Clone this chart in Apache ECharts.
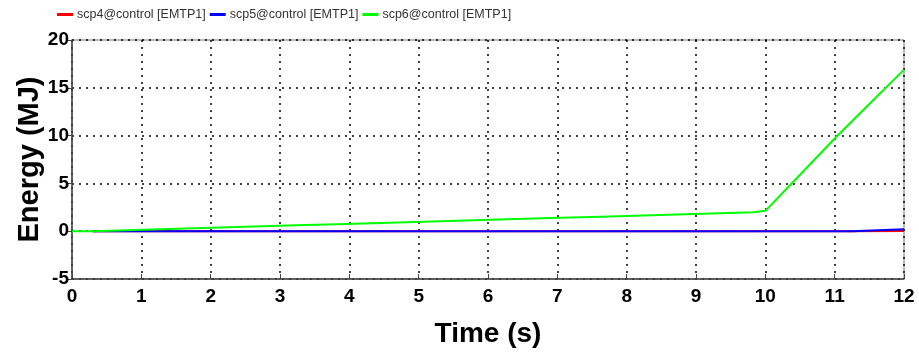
<!DOCTYPE html>
<html>
<head>
<meta charset="utf-8">
<script src="https://cdn.jsdelivr.net/npm/echarts@6/dist/echarts.min.js"></script>
<style>html,body{margin:0;padding:0;background:#fff}#c{width:919px;height:354px}</style>
</head>
<body>
<div id="c"></div>
<script>
const seriesNames = ['scp4@control [EMTP1]', 'scp5@control [EMTP1]', 'scp6@control [EMTP1]'];
const seriesColors = ['#ff0000', '#0000ff', '#00ff00'];
const xTicks = [0,1,2,3,4,5,6,7,8,9,10,11,12];
const yTicks = [-5,0,5,10,15,20];

// scp4 (red): flat zero, tiny rise near the end
const redTimes  = [0.3, 11.25, 12];
const redValues = [0,   0.02,  0.02];
// scp5 (blue)
const blueTimes  = [0.3, 11.25, 12];
const blueValues = [0,   0.2,   0.2];
// scp6 (green): staircase then ramp
const greenStart = [0, 0];
const greenStepTimes  = [0.3, 1.03, 1.76, 2.5, 3.23, 3.96, 4.7, 5.43, 6.16, 6.9, 7.63, 8.36, 9.1, 9.83];
const greenStepValues = [0.15, 0.30, 0.46, 0.61, 0.76, 0.91, 1.06, 1.22, 1.37, 1.52, 1.67, 1.82, 1.98, 2.13];
const greenRampTimes  = [10.0, 10.5, 11.0, 11.5, 12.0];
const greenRampValues = [2.13, 5.9, 9.7, 13.3, 16.9];

function zip(ts, vs){ return ts.map((t,i)=>[t, vs[i]]); }
function steps(start, ts, vs){
  const out=[start]; let prev=start[1];
  ts.forEach((t,i)=>{ out.push([t,prev]); out.push([t,vs[i]]); prev=vs[i]; });
  return out;
}
const greenData = steps(greenStart, greenStepTimes, greenStepValues).concat(zip(greenRampTimes, greenRampValues));

const chart = echarts.init(document.getElementById('c'), null, {renderer:'canvas'});
const font = 'Liberation Sans, Arial, sans-serif';
chart.setOption({
  animation:false,
  backgroundColor:'#fff',
  legend:{
    left:52, top:3, itemGap:4, itemWidth:16, itemHeight:3,
    icon:'rect',
    textStyle:{fontFamily:font, fontSize:12.5, color:'#333', padding:[0,0,0,-1]},
    data:seriesNames
  },
  grid:{left:72, right:15, top:40, bottom:75, show:true, borderColor:'#777', borderWidth:1},
  xAxis:{
    type:'value', min:0, max:12, interval:1,
    name:'Time (s)', nameLocation:'middle', nameGap:41, nameMoveOverlap:false,
    nameTextStyle:{fontFamily:font, fontWeight:'bold', fontSize:28, color:'#000'},
    axisLine:{show:true, onZero:false, lineStyle:{color:'#444', width:1.5}},
    axisTick:{show:true, inside:true, length:5, lineStyle:{color:'#444'}},
    axisLabel:{fontFamily:font, fontWeight:'bold', fontSize:19, color:'#000', margin:8,
      formatter:v=>xTicks.includes(v)?String(v):''},
    splitLine:{show:true, lineStyle:{color:'#000', type:[2,5], width:1.5}}
  },
  yAxis:{
    type:'value', min:-5, max:20, interval:5,
    name:'Energy (MJ)', nameLocation:'middle', nameGap:28, nameMoveOverlap:false,
    nameTextStyle:{fontFamily:font, fontWeight:'bold', fontSize:29, color:'#000'},
    axisLine:{show:true, onZero:false, lineStyle:{color:'#444', width:1.5}},
    axisTick:{show:true, inside:false, length:4, lineStyle:{color:'#444'}},
    axisLabel:{fontFamily:font, fontWeight:'bold', fontSize:19, color:'#000', margin:3,
      formatter:v=>yTicks.includes(v)?String(v):''},
    splitLine:{show:true, lineStyle:{color:'#000', type:[2,5], width:1.5}}
  },
  series:[
    {name:seriesNames[0], type:'line', showSymbol:false, step:'end', data:zip(redTimes, redValues),
      lineStyle:{color:seriesColors[0], width:2}, itemStyle:{color:seriesColors[0]}},
    {name:seriesNames[1], type:'line', showSymbol:false, step:'end', data:zip(blueTimes, blueValues),
      lineStyle:{color:seriesColors[1], width:2}, itemStyle:{color:seriesColors[1]}},
    {name:seriesNames[2], type:'line', showSymbol:false, data:greenData,
      lineStyle:{color:seriesColors[2], width:2}, itemStyle:{color:seriesColors[2]}}
  ]
});
</script>
</body>
</html>
